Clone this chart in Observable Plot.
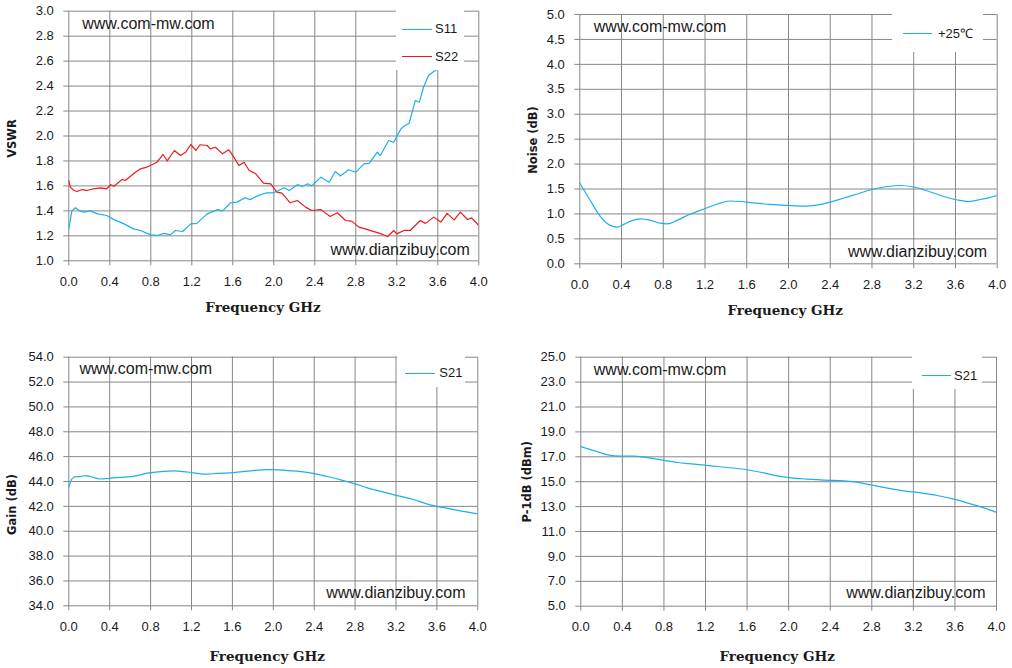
<!DOCTYPE html>
<html><head><meta charset="utf-8">
<script src="https://cdn.jsdelivr.net/npm/d3@7"></script>
<script src="https://cdn.jsdelivr.net/npm/@observablehq/plot@0.6"></script>
<style>
body{margin:0;background:#fff;}
#root{position:relative;width:1012px;height:668px;overflow:hidden;background:#fff;}
.panel{position:absolute;}
.legend{position:absolute;background:#fff;}
.sw{position:absolute;height:0;border-top:1.3px solid;}
.lt{position:absolute;font-family:"Liberation Sans",sans-serif;font-size:13px;color:#1a1a1a;line-height:16px;height:16px;white-space:nowrap;}
</style></head><body><div id="root"></div>
<script>
// ---------- data ----------
const xTicks = [0, 0.4, 0.8, 1.2, 1.6, 2.0, 2.4, 2.8, 3.2, 3.6, 4.0];
const vswrTicks = [1.0, 1.2, 1.4, 1.6, 1.8, 2.0, 2.2, 2.4, 2.6, 2.8, 3.0];
const noiseTicks = [0, 0.5, 1.0, 1.5, 2.0, 2.5, 3.0, 3.5, 4.0, 4.5, 5.0];
const gainTicks = [34, 36, 38, 40, 42, 44, 46, 48, 50, 52, 54];
const p1dbTicks = [5, 7, 9, 11, 13, 15, 17, 19, 21, 23, 25];

const s11Freq = [0,0.03,0.065,0.11,0.146,0.21,0.28,0.37,0.44,0.54,0.63,0.70,0.80,0.86,0.93,0.99,1.04,1.11,1.19,1.25,1.35,1.45,1.50,1.58,1.64,1.72,1.77,1.84,1.93,2.0,2.10,2.15,2.23,2.28,2.33,2.37,2.46,2.54,2.60,2.65,2.73,2.80,2.88,2.93,3.01,3.04,3.12,3.17,3.24,3.28,3.32,3.38,3.42,3.46,3.51,3.56,3.58,3.67,3.75,3.8,3.9,4.0];
const s11 = [1.256,1.40,1.425,1.40,1.39,1.40,1.376,1.363,1.33,1.296,1.256,1.243,1.208,1.203,1.22,1.208,1.243,1.235,1.296,1.30,1.376,1.41,1.40,1.465,1.47,1.505,1.49,1.52,1.545,1.545,1.585,1.563,1.61,1.595,1.617,1.60,1.67,1.63,1.716,1.68,1.73,1.71,1.777,1.78,1.87,1.844,1.964,1.95,2.057,2.084,2.10,2.284,2.27,2.39,2.485,2.517,2.525,2.75,2.98,3.12,3.4,3.7];

const s22Freq = [0,0.015,0.05,0.08,0.13,0.18,0.24,0.31,0.37,0.41,0.44,0.52,0.55,0.65,0.70,0.76,0.83,0.86,0.92,0.96,1.03,1.09,1.14,1.19,1.24,1.28,1.35,1.38,1.43,1.50,1.56,1.59,1.66,1.71,1.76,1.82,1.90,1.97,2.03,2.08,2.16,2.23,2.31,2.37,2.46,2.55,2.62,2.70,2.76,2.83,2.89,2.96,3.02,3.11,3.17,3.20,3.27,3.33,3.43,3.48,3.56,3.63,3.69,3.76,3.82,3.89,3.93,4.0];
const s22 = [1.643,1.59,1.563,1.555,1.571,1.563,1.577,1.585,1.577,1.61,1.598,1.652,1.643,1.71,1.737,1.75,1.777,1.79,1.852,1.80,1.884,1.844,1.87,1.932,1.884,1.93,1.924,1.897,1.91,1.857,1.889,1.857,1.764,1.79,1.724,1.70,1.622,1.617,1.55,1.542,1.465,1.483,1.43,1.403,1.41,1.355,1.385,1.323,1.318,1.27,1.256,1.238,1.224,1.195,1.243,1.216,1.243,1.243,1.323,1.30,1.35,1.31,1.38,1.328,1.39,1.331,1.344,1.283];

const noiseFreq = [0,0.1,0.2,0.29,0.36,0.42,0.49,0.58,0.68,0.77,0.84,0.93,1.06,1.19,1.32,1.44,1.54,1.67,1.83,1.99,2.15,2.27,2.40,2.53,2.66,2.80,2.95,3.07,3.20,3.36,3.49,3.62,3.73,3.84,4.0];
const noise = [1.62,1.27,0.94,0.77,0.735,0.79,0.856,0.90,0.87,0.815,0.80,0.87,1.0,1.10,1.20,1.26,1.25,1.22,1.19,1.17,1.156,1.176,1.237,1.32,1.40,1.49,1.55,1.57,1.54,1.44,1.35,1.28,1.25,1.29,1.37];

const gainFreq = [0,0.03,0.065,0.11,0.16,0.21,0.31,0.41,0.54,0.64,0.77,0.90,1.03,1.12,1.22,1.35,1.45,1.61,1.78,1.94,2.0,2.14,2.27,2.40,2.53,2.66,2.80,2.92,3.08,3.21,3.37,3.50,3.60,3.73,3.86,4.0];
const gain = [43.54,44.2,44.4,44.4,44.48,44.4,44.2,44.27,44.35,44.43,44.67,44.8,44.86,44.8,44.7,44.59,44.65,44.72,44.86,44.96,44.96,44.88,44.8,44.64,44.4,44.13,43.81,43.49,43.14,42.87,42.55,42.2,42.0,41.8,41.59,41.4];

const p1dbFreq = [0,0.125,0.25,0.38,0.51,0.61,0.77,0.93,1.09,1.25,1.41,1.57,1.73,1.89,2.02,2.18,2.34,2.50,2.63,2.79,2.95,3.11,3.27,3.43,3.59,3.75,3.88,4.0];
const p1db = [17.82,17.5,17.18,17.05,17.05,16.97,16.75,16.54,16.41,16.27,16.14,16.0,15.76,15.47,15.31,15.2,15.12,15.09,14.99,14.75,14.48,14.27,14.1,13.89,13.6,13.22,12.9,12.55];

const xTitle = "Frequency GHz";
const watermarkTop = "www.com-mw.com";
const watermarkBottom = "www.dianzibuy.com";

// ---------- styles ----------
const BLUE = "#1ab0ec";
const RED = "#f01818";
const GRID = "#878787";
const INK = "#1a1a1a";
const fmt = d3.format(".1f");
const rows = (F, V) => F.map((f, i) => ({f, v: V[i]}));

function panel(cfg) {
  const plot = Plot.plot({
    width: cfg.w, height: cfg.h,
    marginLeft: cfg.ml, marginRight: cfg.mr, marginTop: cfg.mt, marginBottom: cfg.mb,
    x: {domain: [0, 4]},
    y: {domain: cfg.yDomain},
    style: {fontFamily: "'Liberation Sans', sans-serif", fontSize: "13px", background: "transparent", color: INK, overflow: "visible"},
    marks: [
      Plot.gridX(xTicks, {stroke: GRID, strokeOpacity: 1, strokeWidth: 1}),
      Plot.gridY(cfg.yTicks, {stroke: GRID, strokeOpacity: 1, strokeWidth: 1}),
      Plot.axisX(xTicks, {tickFormat: fmt, tickSize: 5, tickPadding: 11, stroke: GRID, fill: INK, label: null}),
      Plot.axisY(cfg.yTicks, {tickFormat: fmt, tickSize: 5, tickPadding: 10, stroke: GRID, fill: INK, label: null}),
      ...cfg.series.map(s => Plot.line(rows(s.F, s.V), {x: "f", y: "v", stroke: s.color, strokeWidth: 1.2, curve: s.curve || "linear", clip: true})),
      Plot.text([xTitle], {text: d => d, frameAnchor: "bottom", textAnchor: "middle", lineAnchor: "middle", dx: cfg.xtdx, dy: cfg.xtdy, fontFamily: "'DejaVu Serif', serif", fontWeight: "bold", fontSize: 13.5, fill: INK, style: "letter-spacing:1px"}),
      Plot.text([cfg.yTitle], {text: d => d, frameAnchor: "left", textAnchor: "middle", lineAnchor: "middle", rotate: -90, dx: cfg.ytdx, dy: cfg.ytdy, fontFamily: "'DejaVu Sans', sans-serif", fontWeight: "bold", fontSize: 11.5, fill: INK}),
      Plot.text([watermarkTop], {text: d => d, frameAnchor: "top-left", textAnchor: "start", lineAnchor: "middle", dx: cfg.w1[0], dy: cfg.w1[1], fontSize: 16, fill: INK}),
      Plot.text([watermarkBottom], {text: d => d, frameAnchor: "bottom-right", textAnchor: "end", lineAnchor: "middle", dx: cfg.w2[0], dy: cfg.w2[1], fontSize: 16, fill: INK})
    ]
  });
  const wrap = document.createElement("div");
  wrap.className = "panel";
  wrap.style.left = cfg.left + "px";
  wrap.style.top = cfg.top + "px";
  wrap.appendChild(plot);
  document.getElementById("root").appendChild(wrap);
}

function legend(box, items) {
  const root = document.getElementById("root");
  const b = document.createElement("div");
  b.className = "legend";
  Object.assign(b.style, {left: box[0] + "px", top: box[1] + "px", width: box[2] + "px", height: box[3] + "px"});
  root.appendChild(b);
  for (const it of items) {
    const sw = document.createElement("div");
    sw.className = "sw";
    Object.assign(sw.style, {left: it.x0 + "px", top: (it.y - 0.65) + "px", width: (it.x1 - it.x0) + "px", borderTopColor: it.color});
    root.appendChild(sw);
    const t = document.createElement("div");
    t.className = "lt";
    t.textContent = it.label;
    Object.assign(t.style, {left: it.tx + "px", top: (it.y - 8) + "px"});
    root.appendChild(t);
  }
}

panel({left: 0, top: 0, w: 500, h: 320, ml: 68.3, mr: 21.7, mt: 10.7, mb: 59.7,
  yDomain: [1, 3], yTicks: vswrTicks, yTitle: "VSWR",
  series: [{F: s11Freq, V: s11, color: BLUE}, {F: s22Freq, V: s22, color: RED}],
  xtdx: -10.8, xtdy: 46.4, ytdx: -56.6, ytdy: 2.5, w1: [13.4, 12.6], w2: [-9, -11]});

panel({left: 510, top: 0, w: 502, h: 320, ml: 69.3, mr: 15.3, mt: 14, mb: 56.7,
  yDomain: [0, 5], yTicks: noiseTicks, yTitle: "Noise (dB)",
  series: [{F: noiseFreq, V: noise, color: BLUE, curve: "monotone-x"}],
  xtdx: -3.3, xtdy: 46.7, ytdx: -46, ytdy: 0.8, w1: [14, 12], w2: [-10, -11.6]});

panel({left: 0, top: 340, w: 500, h: 328, ml: 68.3, mr: 22.7, mt: 16.7, mb: 62.7,
  yDomain: [34, 54], yTicks: gainTicks, yTitle: "Gain (dB)",
  series: [{F: gainFreq, V: gain, color: BLUE, curve: "monotone-x"}],
  xtdx: -6.1, xtdy: 50.7, ytdx: -56.6, ytdy: 23, w1: [10.7, 11.6], w2: [-12.3, -13]});

panel({left: 510, top: 340, w: 502, h: 328, ml: 70.3, mr: 16, mt: 16.7, mb: 62.3,
  yDomain: [5, 25], yTicks: p1dbTicks, yTitle: "P-1dB (dBm)",
  series: [{F: p1dbFreq, V: p1db, color: BLUE, curve: "monotone-x"}],
  xtdx: -11.5, xtdy: 50.3, ytdx: -53.6, ytdy: 0, w1: [13, 12.6], w2: [-11, -13.4]});

legend([395.5, 8, 68, 62], [
  {x0: 402.3, x1: 431.7, y: 29.3, tx: 435, label: "S11", color: BLUE},
  {x0: 402.3, x1: 431.7, y: 56.7, tx: 435, label: "S22", color: RED}]);
legend([892, 12, 91, 40], [
  {x0: 902.7, x1: 931.7, y: 34, tx: 938, label: "+25℃", color: BLUE}]);
legend([396.7, 354, 68.3, 32.5], [
  {x0: 405, x1: 435, y: 373.3, tx: 439.3, label: "S21", color: BLUE}]);
legend([911.7, 354, 70, 35], [
  {x0: 921.7, x1: 950.7, y: 375.7, tx: 954, label: "S21", color: BLUE}]);
</script></body></html>
